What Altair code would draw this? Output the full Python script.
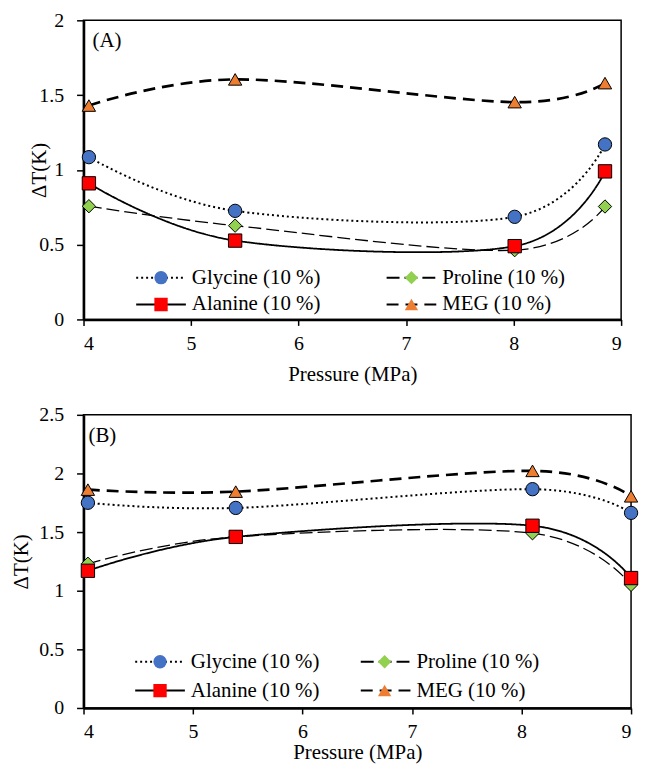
import altair as alt
import pandas as pd

# ---------------- data ----------------
series = ["Glycine (10 %)", "Proline (10 %)", "Alanine (10 %)", "MEG (10 %)"]

pressure_a = [4.05, 5.41, 8.01, 8.85]
glycine_a = [1.085, 0.726, 0.686, 1.17]
proline_a = [0.757, 0.627, 0.463, 0.755]
alanine_a = [0.91, 0.527, 0.49, 0.99]
meg_a = [1.43, 1.605, 1.453, 1.58]

pressure_b = [4.04, 5.39, 8.10, 9.0]
glycine_b = [1.75, 1.706, 1.866, 1.664]
proline_b = [1.23, 1.46, 1.49, 1.05]
alanine_b = [1.17, 1.459, 1.554, 1.108]
meg_b = [1.862, 1.845, 2.022, 1.805]

x_ticks = [4, 5, 6, 7, 8, 9]
y_ticks_a = [0, 0.5, 1, 1.5, 2]
y_ticks_b = [0, 0.5, 1, 1.5, 2, 2.5]

# ---------------- styles ----------------
FONT = "Liberation Serif"
dashes = [[2, 3], [13, 5], [1, 0], [12, 7]]
line_widths = {series[0]: 2.0, series[1]: 1.3, series[2]: 1.8, series[3]: 2.7}
shapes = ["circle", "diamond", "square", "triangle-up"]
fills = ["#4472C4", "#92D050", "#FF0000", "#ED7D31"]
draw_order = ["MEG (10 %)", "Glycine (10 %)", "Proline (10 %)", "Alanine (10 %)"]


def make_df(p, g, pr, al, me):
    vals = {series[0]: g, series[1]: pr, series[2]: al, series[3]: me}
    rows = []
    for s in draw_order:
        for x, y in zip(p, vals[s]):
            rows.append({"P": x, "dT": y, "series": s, "series_m": s,
                         "sw": line_widths[s]})
    return pd.DataFrame(rows)


def panel(df, w, h, ymax, yticks, tag, tag_xy, leg_x, leg_y, col_pad_lines,
          col_pad_marks, row_pad, title_x, title_y):
    x_enc = alt.X("P:Q", scale=alt.Scale(domain=[4, 9], nice=False),
                  axis=alt.Axis(values=x_ticks, title="Pressure (MPa)",
                                labelPadding=8, titleY=title_y, titleBaseline="middle"))
    y_enc = alt.Y("dT:Q", scale=alt.Scale(domain=[0, ymax], nice=False),
                  axis=alt.Axis(values=yticks, format="~g", title="ΔT(K)",
                                tickSize=7, labelPadding=13,
                                titleX=title_x, titleY=h / 2, titleAngle=270,
                                titleBaseline="middle", titleAlign="center"))

    common = dict(title=None, orient="none", direction="horizontal", columns=2,
                  gridAlign="each", clipHeight=21, rowPadding=row_pad, padding=0,
                  labelLimit=400, legendX=leg_x, legendY=leg_y - 10.5)
    leg_lines = alt.Legend(symbolType="stroke", symbolSize=2500,
                           symbolStrokeWidth=2, symbolStrokeColor="black",
                           labelOffset=5, columnPadding=col_pad_lines, **common)
    leg_marks = alt.Legend(symbolSize=180, symbolStrokeWidth=1,
                           symbolStrokeColor="black", symbolOffset=15.5,
                           labelOpacity=0, labelOffset=36,
                           columnPadding=col_pad_marks, **common)

    base = alt.Chart(df)
    lines = base.mark_line(interpolate="cardinal", color="black").encode(
        x=x_enc, y=y_enc,
        strokeDash=alt.StrokeDash("series:N", sort=series,
                                  scale=alt.Scale(range=dashes), legend=leg_lines),
        strokeWidth=alt.StrokeWidth("sw:Q", scale=None),
    )
    points = base.mark_point(filled=True, stroke="black", strokeWidth=1, size=180,
                             opacity=1).encode(
        x=x_enc, y=y_enc,
        shape=alt.Shape("series_m:N", scale=alt.Scale(domain=series, range=shapes),
                        legend=leg_marks),
        fill=alt.Fill("series_m:N", scale=alt.Scale(domain=series, range=fills),
                      legend=leg_marks),
        order=alt.Order("ord:Q"),
    ).transform_window(ord="row_number()")
    label = alt.Chart(pd.DataFrame({"t": [tag]})).mark_text(
        align="left", baseline="middle", font=FONT, fontSize=21, color="black"
    ).encode(text="t:N", x=alt.value(tag_xy[0]), y=alt.value(tag_xy[1]))
    return alt.layer(lines, points, label).properties(width=w, height=h)


df_a = make_df(pressure_a, glycine_a, proline_a, alanine_a, meg_a)
df_b = make_df(pressure_b, glycine_b, proline_b, alanine_b, meg_b)

# leg_y = centre of first legend row, relative to plot top
chart_a = panel(df_a, 541, 301, 2, y_ticks_a, "(A)", (9, 21), 52, 259, 65, 50, 5,
                -44, 55)
chart_b = panel(df_b, 551, 295, 2.5, y_ticks_b, "(B)", (5, 21), 51, 248.5, 40, 24, 7,
                -62, 45)

chart = alt.vconcat(chart_a, chart_b, spacing=19).resolve_scale(
    x="independent", y="independent", strokeDash="independent",
    shape="independent", fill="independent"
).resolve_legend(
    strokeDash="independent", shape="independent", fill="independent"
).properties(
    padding={"left": 2, "top": -1, "right": 0, "bottom": 0}
).configure(font=FONT).configure_view(
    stroke="black", strokeWidth=1.5
).configure_axis(
    grid=False, domainColor="black", domainWidth=2.5, tickColor="black",
    tickSize=6, tickWidth=1.5, labelFont=FONT, labelFontSize=20, labelColor="black",
    titleFont=FONT, titleFontSize=21, titleFontWeight="normal", titleColor="black"
).configure_legend(
    labelFont=FONT, labelFontSize=21, labelColor="black"
)

chart.save("out.html", embed_options={"renderer": "svg", "actions": False})
